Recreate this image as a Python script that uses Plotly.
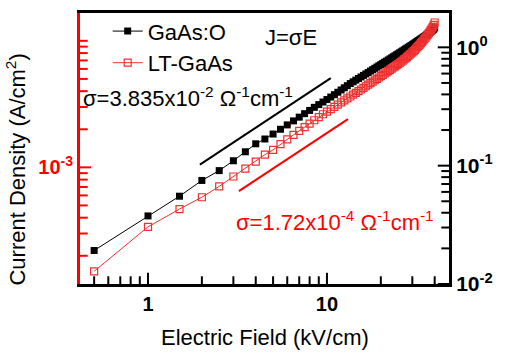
import plotly.graph_objects as go

# Data
field = [0.5, 1, 1.5, 2, 2.5, 3, 3.5, 4, 4.5, 5, 5.5, 6, 6.5, 7, 7.5, 8, 8.5, 9, 9.5, 10,
         10.5, 11, 11.5, 12, 12.5, 13, 13.5, 14, 14.5, 15, 15.5, 16, 16.5, 17, 17.5, 18, 18.5, 19, 19.5, 20,
         20.5, 21, 21.5, 22, 22.5, 23, 23.5, 24, 24.5, 25, 25.5, 26, 26.5, 27, 27.5, 28, 28.5, 29, 29.5, 30,
         30.5, 31, 31.5, 32, 32.5, 33, 33.5, 34, 34.5, 35, 35.5, 36, 36.5, 37, 37.5, 38, 38.5, 39, 39.5, 40]

gaas_o = [0.0192, 0.0376, 0.0552, 0.0750, 0.0908, 0.110, 0.131, 0.153, 0.168, 0.185,
          0.203, 0.221, 0.239, 0.257, 0.275, 0.293, 0.311, 0.328, 0.345, 0.362,
          0.380, 0.398, 0.417, 0.436, 0.455, 0.474, 0.494, 0.511, 0.528, 0.545,
          0.562, 0.579, 0.596, 0.613, 0.630, 0.647, 0.664, 0.681, 0.698, 0.714,
          0.731, 0.748, 0.764, 0.781, 0.798, 0.815, 0.832, 0.848, 0.865, 0.882,
          0.899, 0.916, 0.933, 0.950, 0.967, 0.984, 1.001, 1.018, 1.035, 1.052,
          1.070, 1.088, 1.106, 1.124, 1.142, 1.160, 1.178, 1.196, 1.215, 1.234,
          1.253, 1.272, 1.291, 1.310, 1.330, 1.352, 1.375, 1.398, 1.422, 1.46]

lt_gaas = [0.0128, 0.0304, 0.0430, 0.0541, 0.0668, 0.0810, 0.0944, 0.108, 0.124, 0.136,
           0.152, 0.167, 0.182, 0.197, 0.212, 0.227, 0.242, 0.257, 0.272, 0.286,
           0.300, 0.314, 0.328, 0.342, 0.356, 0.370, 0.384, 0.398, 0.412, 0.426,
           0.440, 0.455, 0.469, 0.484, 0.498, 0.513, 0.527, 0.542, 0.556, 0.571,
           0.586, 0.601, 0.615, 0.630, 0.645, 0.660, 0.675, 0.691, 0.706, 0.722,
           0.738, 0.755, 0.772, 0.790, 0.808, 0.827, 0.846, 0.866, 0.887, 0.908,
           0.930, 0.953, 0.977, 1.002, 1.028, 1.055, 1.083, 1.112, 1.142, 1.173,
           1.206, 1.240, 1.276, 1.314, 1.354, 1.40, 1.44, 1.49, 1.55, 1.62]

# Guide lines J = k*E (slope 1 in log-log)
fit_black_E = [1.95, 10.5]
fit_black_k = 0.0523
fit_red_E = [3.22, 13.1]
fit_red_k = 0.0189

# Tick positions (major labelled, minor unlabelled)
x_major = [1, 10]
x_major_text = ["<b>1</b>", "<b>10</b>"]
x_minor = [0.5, 0.6, 0.7, 0.8, 0.9, 2, 3, 4, 5, 6, 7, 8, 9, 20, 30, 40]
right_major = [0.01, 0.1, 1]
right_major_text = ["<b>10<sup>-2</sup></b>", "<b>10<sup>-1</sup></b>", "<b>10<sup>0</sup></b>"]
right_minor = [0.02, 0.03, 0.04, 0.05, 0.06, 0.07, 0.08, 0.09,
               0.2, 0.3, 0.4, 0.5, 0.6, 0.7, 0.8, 0.9]
left_major = [1e-3]
left_major_text = ["<b>10<sup>-3</sup></b>"]
left_minor = [2e-4, 3e-4, 4e-4, 5e-4, 6e-4, 7e-4, 8e-4, 9e-4,
              2e-3, 3e-3, 4e-3, 5e-3, 6e-3, 7e-3, 8e-3, 9e-3, 1e-2]

# Axis ranges (log10 units)
X_RANGE = [-0.38, 1.682]
YL_RANGE = [-3.922, -1.78]
YR_RANGE = [-2.0, 0.29]

FONT = "Liberation Sans, Arial, sans-serif"
RED = "#ff0000"
MAJ_SIZE, MIN_SIZE = 16, 11

x_lo, x_hi = 10 ** X_RANGE[0], 10 ** X_RANGE[1]
yr_lo = 10 ** YR_RANGE[0]

fig = go.Figure()
fig.add_trace(go.Scatter(x=field, y=gaas_o, name="GaAs:O", mode="lines+markers",
                         line=dict(color="black", width=1),
                         marker=dict(symbol="square", size=7, color="black"),
                         yaxis="y2"))
fig.add_trace(go.Scatter(x=field, y=lt_gaas, name="LT-GaAs", mode="lines+markers",
                         line=dict(color="#f03030", width=1),
                         marker=dict(symbol="square-open", size=7, color="#f03030",
                                     line=dict(width=1.2)),
                         yaxis="y2"))
fig.add_trace(go.Scatter(x=fit_black_E, y=[fit_black_k * e for e in fit_black_E],
                         mode="lines", line=dict(color="black", width=2),
                         showlegend=False, yaxis="y2"))
fig.add_trace(go.Scatter(x=fit_red_E, y=[fit_red_k * e for e in fit_red_E],
                         mode="lines", line=dict(color=RED, width=2),
                         showlegend=False, yaxis="y2"))


def tick_trace(xs, ys, symbol, size, color, axis):
    # marker centred on the frame edge; the outer half is clipped by the plot area
    return go.Scatter(x=xs, y=ys, mode="markers", yaxis=axis, showlegend=False,
                      hoverinfo="skip", cliponaxis=True,
                      marker=dict(symbol=symbol, size=size, color=color,
                                  line=dict(width=2, color=color)))


# bottom axis ticks
fig.add_trace(tick_trace(x_major, [yr_lo] * len(x_major), "line-ns", MAJ_SIZE, "black", "y2"))
fig.add_trace(tick_trace(x_minor, [yr_lo] * len(x_minor), "line-ns", MIN_SIZE, "black", "y2"))
# right axis ticks
fig.add_trace(tick_trace([x_hi] * len(right_major), right_major, "line-ew", MAJ_SIZE, "black", "y2"))
fig.add_trace(tick_trace([x_hi] * len(right_minor), right_minor, "line-ew", MIN_SIZE, "black", "y2"))
# left (red) axis ticks
fig.add_trace(tick_trace([x_lo] * len(left_major), left_major, "line-ew", MAJ_SIZE, RED, "y"))
fig.add_trace(tick_trace([x_lo] * len(left_minor), left_minor, "line-ew", MIN_SIZE, RED, "y"))

fig.update_layout(
    width=508, height=354,
    margin=dict(l=80, r=59, t=10, b=70),
    paper_bgcolor="white", plot_bgcolor="white",
    font=dict(family=FONT, size=20, color="black"),
    showlegend=True,
    legend=dict(x=0.075, y=1.01, xanchor="left", yanchor="top",
                bgcolor="rgba(0,0,0,0)", font=dict(size=22),
                tracegroupgap=0),
    xaxis=dict(type="log", range=X_RANGE,
               tickvals=x_major, ticktext=x_major_text, ticks="",
               showline=True, linecolor="black", linewidth=3, mirror=True,
               showgrid=False, zeroline=False,
               tickfont=dict(size=20, color="black")),
    yaxis=dict(type="log", range=YL_RANGE,
               tickvals=left_major, ticktext=left_major_text, ticks="",
               showline=True, linecolor=RED, linewidth=3,
               showgrid=False, zeroline=False,
               tickfont=dict(size=20, color=RED)),
    yaxis2=dict(type="log", range=YR_RANGE, overlaying="y", side="right",
                tickvals=right_major, ticktext=right_major_text, ticks="",
                showline=True, linecolor="black", linewidth=3,
                showgrid=False, zeroline=False,
                tickfont=dict(size=21, color="black")),
    annotations=[
        dict(text="Electric Field (kV/cm)", xref="paper", yref="paper", x=0.501, y=-0.197,
             showarrow=False, font=dict(size=22), xanchor="center", yanchor="middle"),
        dict(text="Current Density (A/cm<sup>2</sup>)", xref="paper", yref="paper", x=-0.173, y=0.423,
             textangle=-90, showarrow=False, font=dict(size=22), xanchor="center", yanchor="middle"),
        dict(text="J=σE", xref="paper", yref="paper", x=0.572, y=0.909,
             showarrow=False, font=dict(size=22), xanchor="center", yanchor="middle"),
        dict(text="σ=3.835x10<sup>-2</sup> Ω<sup>-1</sup>cm<sup>-1</sup>", xref="paper", yref="paper",
             x=0.293, y=0.69, showarrow=False, font=dict(size=22), xanchor="center", yanchor="middle"),
        dict(text="σ=1.72x10<sup>-4</sup> Ω<sup>-1</sup>cm<sup>-1</sup>", xref="paper", yref="paper",
             x=0.69, y=0.234, showarrow=False, font=dict(size=22, color=RED),
             xanchor="center", yanchor="middle"),
    ],
)

fig.write_html("out.html")
